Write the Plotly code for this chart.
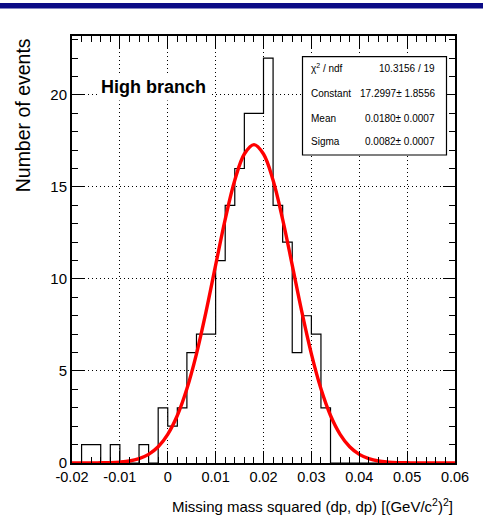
import plotly.graph_objects as go

# ---------------- data ----------------
bin_start = -0.02
bin_width = 0.002
counts = [0, 1, 1, 0, 1, 0, 0, 1, 0, 3,
          2, 3, 6, 7, 7, 11, 14, 16, 19, 19,
          22, 14, 12, 6, 8, 7, 3, 0, 0, 0,
          0, 0, 0, 0, 0, 0, 0, 0, 0, 0]

fit_x = [-0.020, -0.018, -0.016, -0.014, -0.012, -0.010, -0.008, -0.006, -0.004, -0.002,
         0.000, 0.002, 0.004, 0.006, 0.008, 0.010, 0.012, 0.014, 0.016, 0.018,
         0.020, 0.022, 0.024, 0.026, 0.028, 0.030, 0.032, 0.034, 0.036, 0.038,
         0.040, 0.042, 0.044, 0.046, 0.048, 0.050, 0.052, 0.054, 0.056, 0.058, 0.060]
fit_y = [0.00, 0.00, 0.00, 0.01, 0.02, 0.05, 0.11, 0.24, 0.47, 0.88,
         1.56, 2.58, 4.03, 5.93, 8.22, 10.75, 13.24, 15.36, 16.79, 17.30,
         16.79, 15.36, 13.24, 10.75, 8.22, 5.93, 4.03, 2.58, 1.56, 0.88,
         0.47, 0.24, 0.11, 0.05, 0.02, 0.01, 0.00, 0.00, 0.00, 0.00, 0.00]

x_ticks = [-0.02, -0.01, 0.0, 0.01, 0.02, 0.03, 0.04, 0.05, 0.06]
x_ticktext = ["-0.02", "-0.01", "0", "0.01", "0.02", "0.03", "0.04", "0.05", "0.06"]
y_ticks = [0, 5, 10, 15, 20]
y_ticktext = ["0", "5", "10", "15", "20"]

stats_labels = ["χ<sup>2</sup> / ndf", "Constant", "Mean", "Sigma"]
stats_values = ["10.3156 / 19", "17.2997± 1.8556", "0.0180± 0.0007", "0.0082± 0.0007"]

title_text = "High branch"
x_title = "Missing mass squared (dp, dp) [(GeV/c<sup>2</sup>)<sup>2</sup>]"
y_title = "Number of events"

# ---------------- figure ----------------
FONT = "Liberation Sans, Arial, Helvetica, sans-serif"

edges = [round(bin_start + bin_width * i, 4) for i in range(len(counts) + 1)]
step_y = counts + [counts[-1]]

fig = go.Figure()
fig.add_trace(go.Scatter(x=edges, y=step_y, mode="lines", line_shape="hv",
                         line=dict(color="black", width=1.2), hoverinfo="skip"))
fig.add_trace(go.Scatter(x=fit_x, y=fit_y, mode="lines", line_shape="spline",
                         line=dict(color="#ff0000", width=3.4), hoverinfo="skip"))

W, H = 483, 527
L, R, T, B = 72, 28, 36, 64
PW, PH = W - L - R, H - T - B


def px(xp):
    return (xp - L) / PW


def py(yp):
    return (H - B - yp) / PH


GRID_DASH = "1px,3px"

fig.update_layout(
    width=W, height=H,
    margin=dict(l=L, r=R, t=T, b=B),
    plot_bgcolor="white", paper_bgcolor="white",
    showlegend=False,
    font=dict(family=FONT, color="black"),
    xaxis=dict(range=[-0.02, 0.06], tickvals=x_ticks, ticktext=x_ticktext,
               ticks="inside", ticklen=12, tickwidth=1, tickcolor="black",
               showline=True, linecolor="black", linewidth=2, mirror="ticks",
               showgrid=True, gridcolor="black", griddash=GRID_DASH, gridwidth=1,
               zeroline=False, tickfont=dict(size=14.5, family=FONT),
               minor=dict(dtick=0.002, tick0=0, ticks="inside", ticklen=6,
                          tickcolor="black", tickwidth=1, showgrid=False)),
    yaxis=dict(range=[0, 23.2], tickvals=y_ticks, ticktext=y_ticktext,
               ticks="inside", ticklen=12, tickwidth=1, tickcolor="black",
               showline=True, linecolor="black", linewidth=2, mirror="ticks",
               showgrid=True, gridcolor="black", griddash=GRID_DASH, gridwidth=1,
               zeroline=False, tickfont=dict(size=15, family=FONT),
               minor=dict(dtick=1, tick0=0, ticks="inside", ticklen=6,
                          tickcolor="black", tickwidth=1, showgrid=False)),
)

# top navy bar
fig.add_shape(type="rect", xref="paper", yref="paper",
              x0=px(0), x1=px(W), y0=py(8.5), y1=py(3),
              fillcolor="#0b0b86", line=dict(width=0), layer="above")

# stats box
fig.add_shape(type="rect", xref="paper", yref="paper",
              x0=px(302.5), x1=px(446.5), y0=py(155), y1=py(56.7),
              fillcolor="white", line=dict(color="black", width=1.2), layer="above")

row_y = [68.3, 93.3, 118.3, 141.5]
for lab, val, ry in zip(stats_labels, stats_values, row_y):
    fig.add_annotation(xref="paper", yref="paper", x=px(309.3), y=py(ry),
                       text=lab, showarrow=False, xanchor="left", yanchor="middle",
                       font=dict(size=10, family=FONT, color="black"))
    fig.add_annotation(xref="paper", yref="paper", x=px(436.7), y=py(ry),
                       text=val, showarrow=False, xanchor="right", yanchor="middle",
                       font=dict(size=10, family=FONT, color="black"))

# High branch label
fig.add_annotation(xref="paper", yref="paper", x=px(153.3), y=py(87),
                   text="<b>" + title_text + "</b>", showarrow=False,
                   xanchor="center", yanchor="middle", bgcolor="white", borderpad=3,
                   font=dict(size=18, family=FONT, color="black"))

# axis titles
fig.add_annotation(xref="paper", yref="paper", x=1, y=py(505),
                   text=x_title, showarrow=False, xanchor="right", yanchor="middle",
                   font=dict(size=15, family=FONT, color="black"))
fig.add_annotation(xref="paper", yref="paper", x=0, y=1, xshift=-(L - 23.3),
                   text=y_title, showarrow=False, textangle=-90,
                   xanchor="center", yanchor="top",
                   font=dict(size=19.5, family=FONT, color="black"))

fig.write_html("out.html",
               config={"displayModeBar": False},
               post_script="document.body.style.margin='0';document.body.style.overflow='hidden';")
